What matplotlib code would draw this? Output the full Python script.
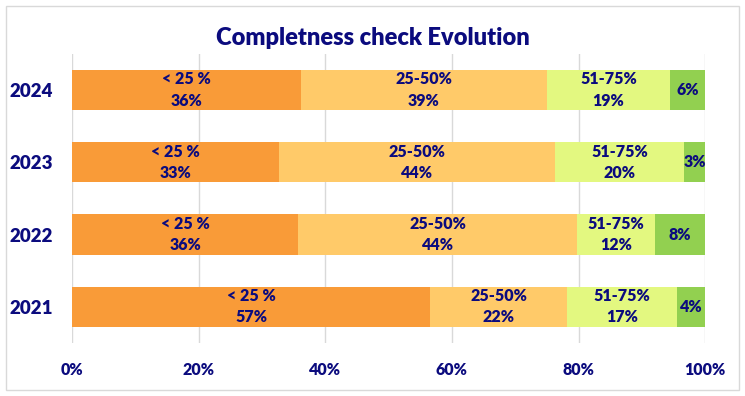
import matplotlib
matplotlib.use('Agg')
import matplotlib.pyplot as plt
from matplotlib.patches import Rectangle
import numpy as np

plt.rcParams['font.family'] = ['Lato', 'DejaVu Sans']

# data (share in %)
years = ['2021', '2022', '2023', '2024']
bands = ['< 25 %', '25-50%', '51-75%', '76-100%']
lt25 = [56.6, 35.7, 32.7, 36.1]
p25_50 = [21.6, 44.1, 43.6, 38.9]
p51_75 = [17.4, 12.3, 20.4, 19.4]
p76_100 = [4.4, 7.9, 3.3, 5.6]
show_band_name = [True, True, True, False]

colors = ['#F99B38', '#FFCA69', '#E3F880', '#92D050']
navy = '#0B0B7E'
weight = 'heavy'

fig = plt.figure(figsize=(7.45, 3.96), dpi=100, facecolor='white')
ax = fig.add_axes([0.0966, 0.134, 0.850, 0.730])

series = [lt25, p25_50, p51_75, p76_100]
y = np.arange(len(years))
left = np.zeros(len(years))
for vals, col, name, show in zip(series, colors, bands, show_band_name):
    vals = np.array(vals)
    ax.barh(y, vals, left=left, height=0.56, color=col, zorder=3)
    for yi, l, v in zip(y, left, vals):
        txt = f'{name}\n{round(v):.0f}%' if show else f'{round(v):.0f}%'
        ax.text(l + v / 2, yi, txt, ha='center', va='center', color=navy,
                fontsize=11.5, fontweight=weight, linespacing=1.4, zorder=4)
    left += vals

ax.set_xlim(0, 100)
ax.set_ylim(-0.5, 3.5)
ax.set_xticks(np.arange(0, 101, 20))
ax.set_xticklabels([f'{t}%' for t in range(0, 101, 20)])
ax.set_yticks(y)
ax.set_yticklabels(years)
ax.tick_params(axis='x', length=0, pad=14, labelsize=11.5, labelcolor=navy)
ax.tick_params(axis='y', length=0, pad=14, labelsize=13.5, labelcolor=navy)
for lbl in ax.get_xticklabels() + ax.get_yticklabels():
    lbl.set_fontweight(weight)
ax.grid(axis='x', color='#D9D9D9', linewidth=1, zorder=0)
for s in ax.spines.values():
    s.set_visible(False)

fig.text(0.5, 0.905, 'Completness check Evolution', ha='center', va='center',
         fontsize=17, fontweight=weight, color=navy)

fig.patches.append(Rectangle((0.008, 0.015), 0.984, 0.97, transform=fig.transFigure,
                             fill=False, edgecolor='#D9D9D9', linewidth=1))

plt.savefig('out.png', dpi=100, facecolor='white')
